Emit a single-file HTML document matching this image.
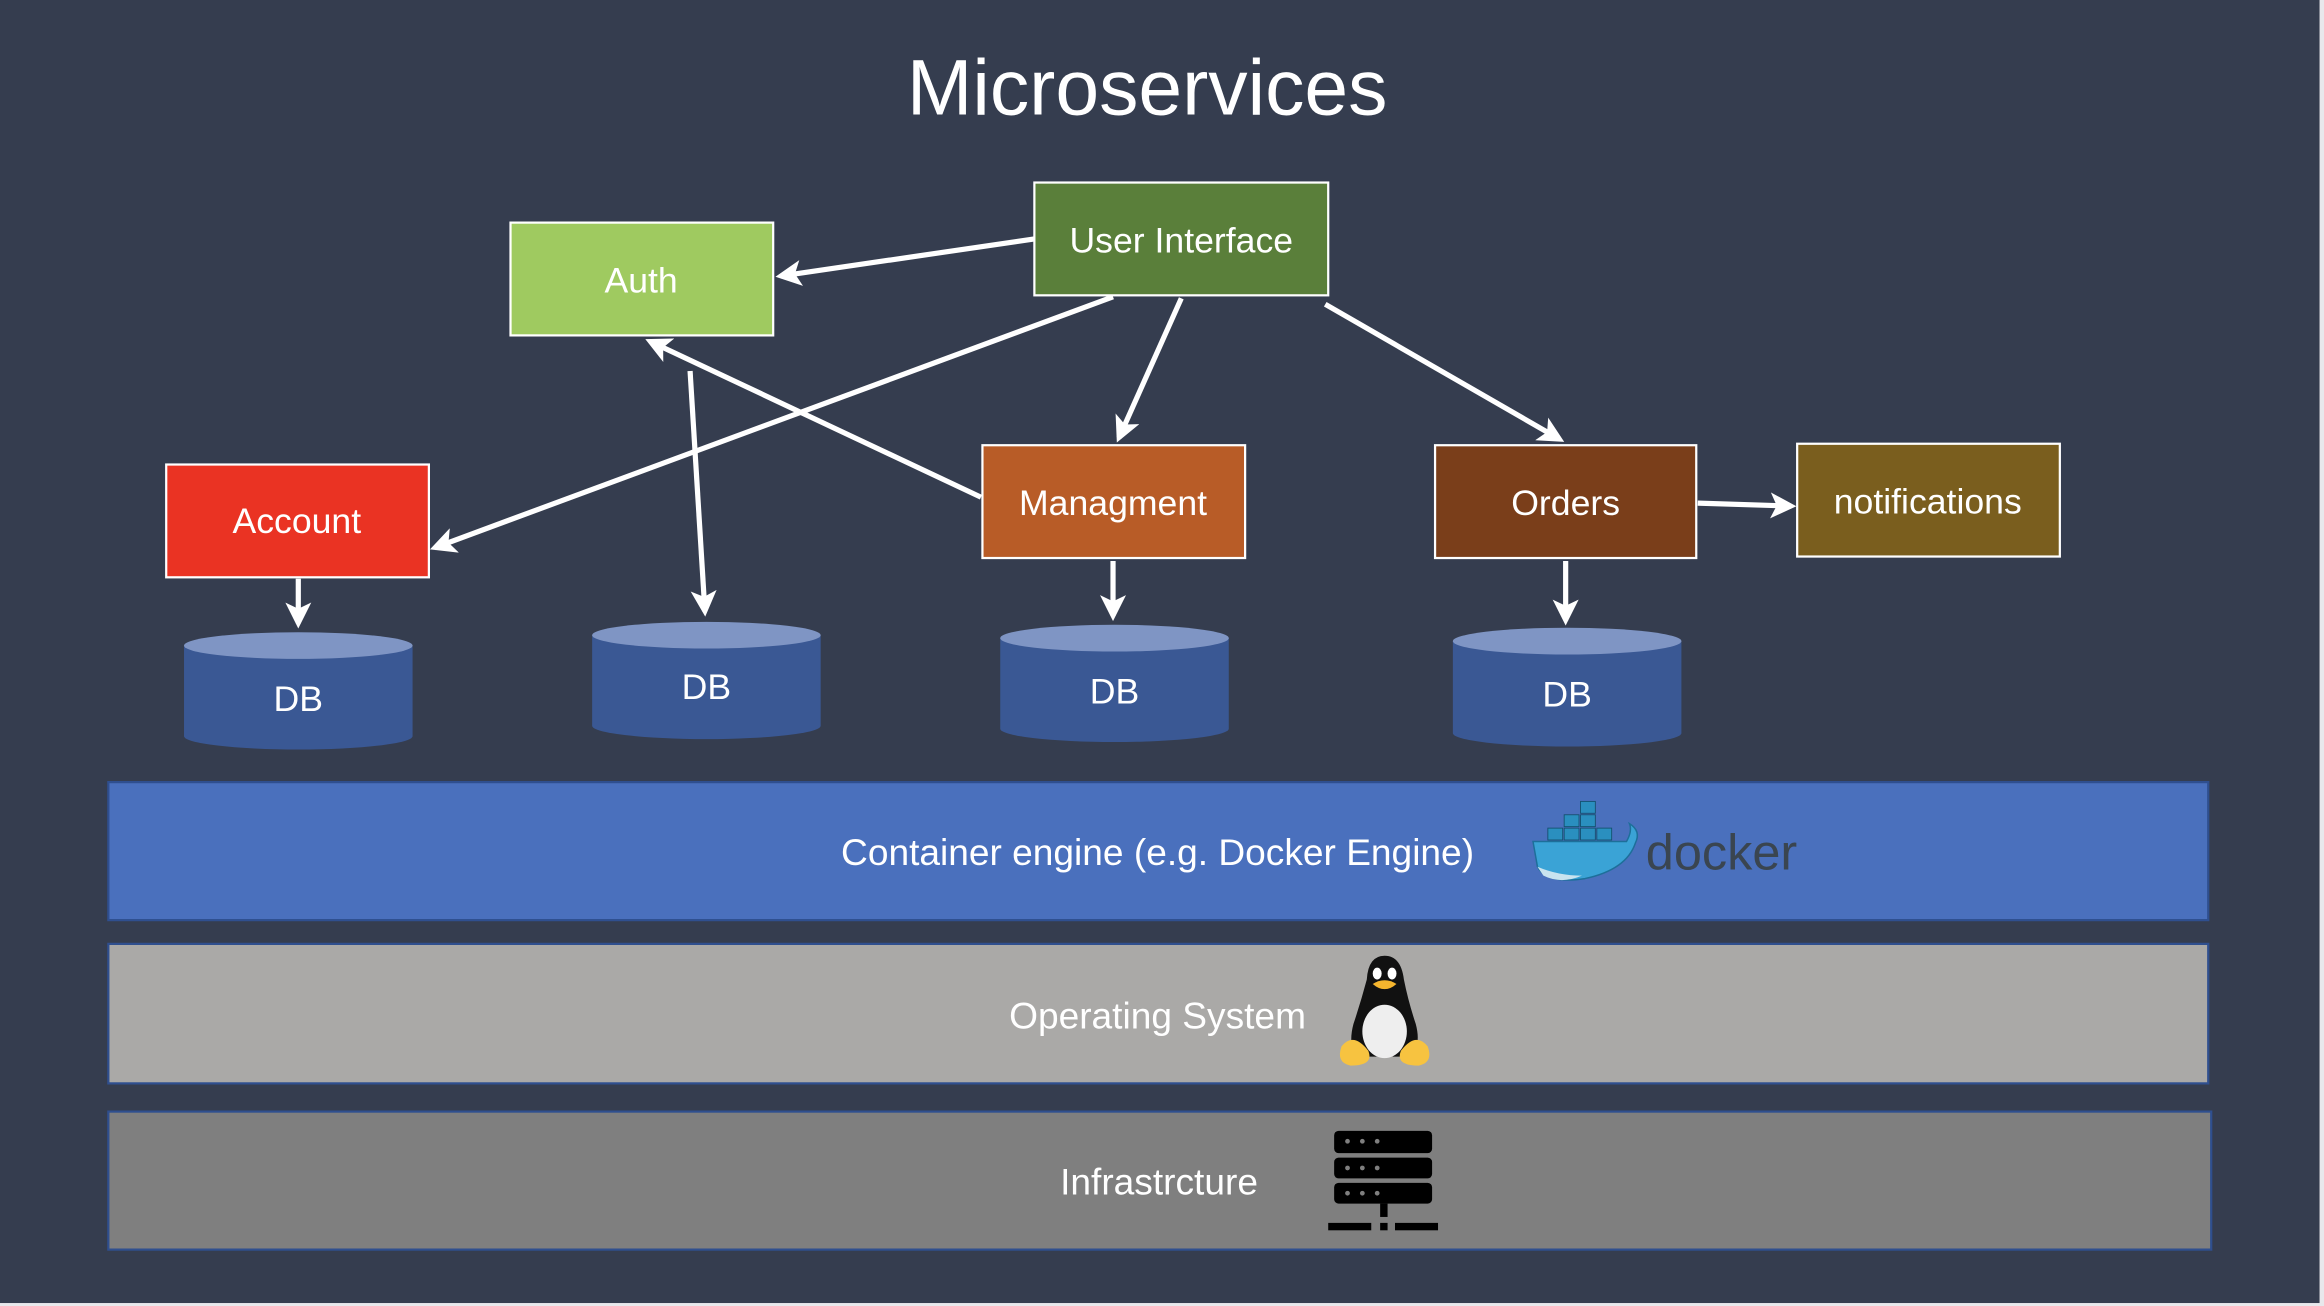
<!DOCTYPE html>
<html><head><meta charset="utf-8"><style>
html,body{margin:0;padding:0;background:#353d4f;}
svg{display:block;}
text{font-family:"Liberation Sans",sans-serif;fill:#fff;}
</style></head><body>
<svg width="2324" height="1306" viewBox="0 0 1566 880" preserveAspectRatio="none" xmlns="http://www.w3.org/2000/svg">
<defs>
<marker id="ah" markerWidth="5" markerHeight="5" refX="4" refY="2.5" orient="auto" markerUnits="strokeWidth">
<path d="M0,0 L5,2.5 L0,5 L1.2,2.5 z" fill="#fff"/>
</marker>
</defs>
<rect x="0" y="0" width="1566" height="880" fill="#353d4f"/>
<rect x="1563" y="0" width="3" height="880" fill="#e8e8ec"/>
<rect x="0" y="878" width="1566" height="2" fill="#e8e8ec"/>
<text x="773" y="77" font-size="53" text-anchor="middle">Microservices</text>

<g stroke="#fff" stroke-width="1.5">
<rect x="697" y="123" width="198" height="76" fill="#5a7f3a"/>
<rect x="344" y="150" width="177" height="76" fill="#9fca60"/>
<rect x="112" y="313" width="177" height="76" fill="#ea3323"/>
<rect x="662" y="300" width="177" height="76" fill="#b85c27"/>
<rect x="967" y="300" width="176" height="76" fill="#7a3e1a"/>
<rect x="1211" y="299" width="177" height="76" fill="#7a5e1e"/>
</g>
<g font-size="24" text-anchor="middle">
<text x="796" y="170">User Interface</text>
<text x="432" y="197">Auth</text>
<text x="200" y="359">Account</text>
<text x="750" y="347">Managment</text>
<text x="1055" y="347">Orders</text>
<text x="1299" y="346">notifications</text>
</g>

<g>
<path d="M124,435 L124,496 A77,9 0 0 0 278,496 L278,435 Z" fill="#3a5894"/>
<ellipse cx="201" cy="435" rx="77" ry="9" fill="#7f95c4"/>
<path d="M399,428 L399,489 A77,9 0 0 0 553,489 L553,428 Z" fill="#3a5894"/>
<ellipse cx="476" cy="428" rx="77" ry="9" fill="#7f95c4"/>
<path d="M674,430 L674,491 A77,9 0 0 0 828,491 L828,430 Z" fill="#3a5894"/>
<ellipse cx="751" cy="430" rx="77" ry="9" fill="#7f95c4"/>
<path d="M979,432 L979,494 A77,9 0 0 0 1133,494 L1133,432 Z" fill="#3a5894"/>
<ellipse cx="1056" cy="432" rx="77" ry="9" fill="#7f95c4"/>
</g>
<g font-size="24" text-anchor="middle">
<text x="201" y="479">DB</text>
<text x="476" y="471">DB</text>
<text x="751" y="474">DB</text>
<text x="1056" y="476">DB</text>
</g>

<g stroke="#fff" stroke-width="3.5" fill="none" marker-end="url(#ah)">
<line x1="697" y1="161" x2="526" y2="186"/>
<line x1="750" y1="200" x2="293" y2="369"/>
<line x1="796" y1="201" x2="754" y2="295"/>
<line x1="893" y1="205" x2="1051" y2="296"/>
<line x1="661" y1="335" x2="438" y2="230"/>
<line x1="465" y1="250" x2="475" y2="412"/>
<line x1="201" y1="390" x2="201" y2="420"/>
<line x1="750" y1="378" x2="750" y2="415"/>
<line x1="1055" y1="378" x2="1055" y2="418"/>
<line x1="1144" y1="339" x2="1207" y2="341"/>
</g>

<rect x="73" y="527" width="1415" height="93" fill="#4a70bd" stroke="#2f4f8f" stroke-width="1.5"/>
<text x="780" y="583" font-size="25" text-anchor="middle">Container engine (e.g. Docker Engine)</text>
<g>
<rect x="1043" y="558" width="10" height="8" fill="#2a8fbf" stroke="#14506e" stroke-width="0.6"/>
<rect x="1054" y="558" width="10" height="8" fill="#2a8fbf" stroke="#14506e" stroke-width="0.6"/>
<rect x="1065" y="558" width="10" height="8" fill="#2a8fbf" stroke="#14506e" stroke-width="0.6"/>
<rect x="1076" y="558" width="10" height="8" fill="#2a8fbf" stroke="#14506e" stroke-width="0.6"/>
<rect x="1054" y="549" width="10" height="8" fill="#2a8fbf" stroke="#14506e" stroke-width="0.6"/>
<rect x="1065" y="549" width="10" height="8" fill="#2a8fbf" stroke="#14506e" stroke-width="0.6"/>
<rect x="1065" y="540" width="10" height="8" fill="#2a8fbf" stroke="#14506e" stroke-width="0.6"/>
<path d="M1033,567 L1096,567 Q1100,560 1098,555 Q1106,560 1102,568 Q1096,586 1068,592 Q1042,596 1036,584 Z" fill="#3aa3d6" stroke="#1d6f9a" stroke-width="1"/>
<path d="M1036,584 Q1050,590 1066,590 Q1052,596 1040,590 Z" fill="#c9e3ef"/>
<text x="1160" y="586" font-size="34" text-anchor="middle" style="fill:#3a4550">docker</text>
</g>

<rect x="73" y="636" width="1415" height="94" fill="#aaa9a7" stroke="#2f4f8f" stroke-width="1.5"/>
<text x="780" y="693" font-size="25" text-anchor="middle">Operating System</text>
<g>
<path d="M933,644 Q922,644 921,660 Q917,675 912,690 Q908,705 915,712 L950,712 Q958,705 954,690 Q949,675 946,660 Q944,644 933,644 Z" fill="#111"/>
<ellipse cx="933" cy="695" rx="15" ry="18" fill="#eee"/>
<ellipse cx="928" cy="656" rx="3" ry="4" fill="#fff"/>
<ellipse cx="938" cy="656" rx="3" ry="4" fill="#fff"/>
<path d="M925,663 Q933,658 941,663 Q933,670 925,663 Z" fill="#f5b52e"/>
<path d="M904,705 Q912,695 922,708 Q926,718 910,718 Q900,716 904,705 Z" fill="#f7c340"/>
<path d="M962,705 Q954,695 944,708 Q940,718 956,718 Q966,716 962,705 Z" fill="#f7c340"/>
</g>

<rect x="73" y="749" width="1417" height="93" fill="#7f7f7f" stroke="#2f4f8f" stroke-width="1.5"/>
<text x="781" y="805" font-size="25" text-anchor="middle">Infrastrcture</text>
<g fill="#000">
<rect x="899" y="762" width="66" height="15" rx="3"/>
<rect x="899" y="780" width="66" height="14" rx="3"/>
<rect x="899" y="797" width="66" height="14" rx="3"/>
<rect x="930" y="811" width="5" height="9"/>
<rect x="895" y="824" width="29" height="5"/>
<rect x="930" y="824" width="5" height="5"/>
<rect x="940" y="824" width="29" height="5"/>
</g>
<g fill="#7f7f7f">
<circle cx="908" cy="769" r="1.6"/><circle cx="918" cy="769" r="1.6"/><circle cx="928" cy="769" r="1.6"/>
<circle cx="908" cy="787" r="1.6"/><circle cx="918" cy="787" r="1.6"/><circle cx="928" cy="787" r="1.6"/>
<circle cx="908" cy="804" r="1.6"/><circle cx="918" cy="804" r="1.6"/><circle cx="928" cy="804" r="1.6"/>
</g>
</svg>
</body></html>
